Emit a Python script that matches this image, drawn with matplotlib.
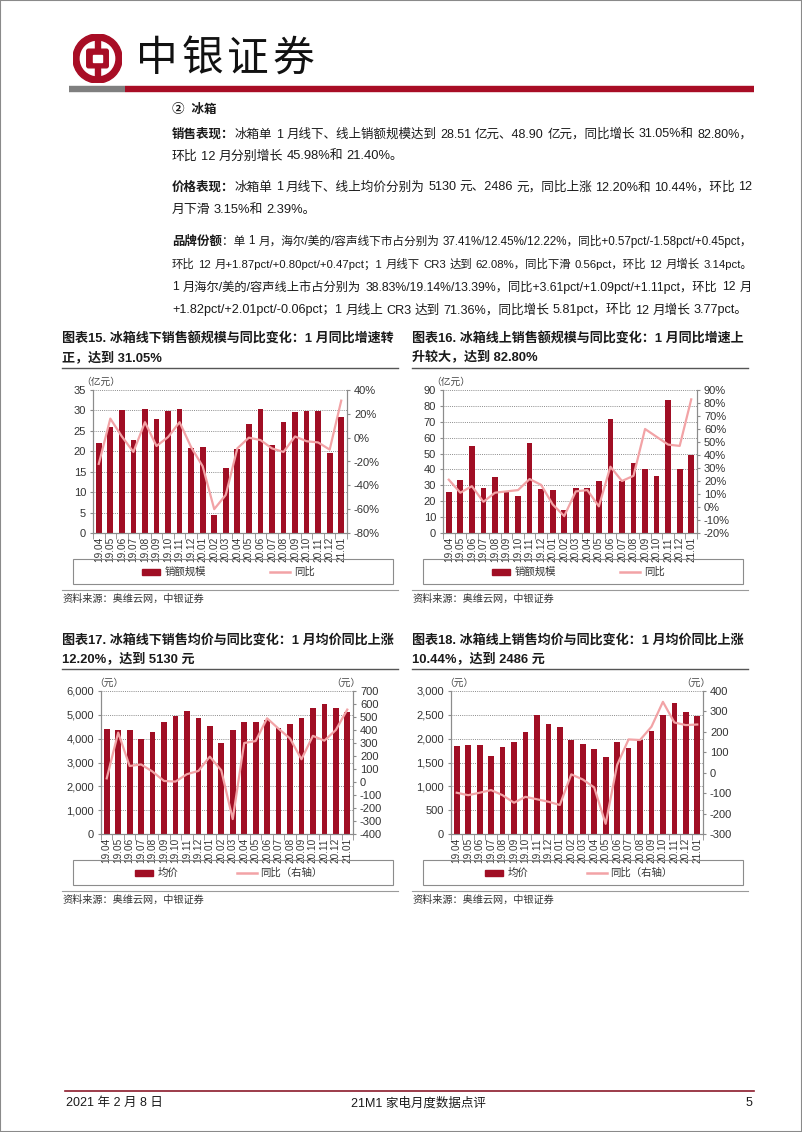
import numpy as np
import matplotlib
matplotlib.use('Agg')
from matplotlib import pyplot as plt
from matplotlib import patches, font_manager
from matplotlib.lines import Line2D
from matplotlib.ticker import FuncFormatter, MultipleLocator

months = ['19.04', '19.05', '19.06', '19.07', '19.08', '19.09', '19.10', '19.11', '19.12',
          '20.01', '20.02', '20.03', '20.04', '20.05', '20.06', '20.07', '20.08', '20.09',
          '20.10', '20.11', '20.12', '21.01']

# 线下销额（亿元）与同比（%）
offline_sales = [22.1, 26.0, 30.2, 22.7, 30.3, 27.8, 29.9, 30.3, 20.8, 21.0, 4.5, 16.0,
                 20.6, 26.7, 30.3, 21.5, 27.2, 29.6, 29.9, 29.9, 19.5, 28.51]
offline_sales_yoy = [-22, 16, 1, -12, 13, -7, 0.5, 13, -8, -24, -60, -48,
                     -9, 0, -2, -9, -12, 1, -3, -4, -10, 31.05]
# 线上销额（亿元）与同比（%）
online_sales = [25.5, 33.5, 55.0, 28.5, 35.5, 25.5, 23.5, 56.5, 27.5, 27.0, 14.5, 28.5,
                28.5, 33.0, 72.0, 32.5, 44.0, 40.0, 36.0, 83.5, 40.0, 48.9]
online_sales_yoy = [21, 11, 16, 4, 11, 12, 13, 21.5, 17, 2, -7, 12,
                    13, 0.5, 31, 20, 24, 60, 54, 48, 47, 82.8]
# 线下均价（元）与同比（元）
offline_price = [4420, 4350, 4350, 4000, 4300, 4700, 4950, 5150, 4870, 4550, 3800, 4380,
                 4720, 4680, 4800, 4430, 4630, 4880, 5300, 5470, 5280, 5130]
offline_price_yoy = [28, 380, 123, 135, 80, 8, 3, 60, 85, 195, 90, -285,
                     300, 315, 490, 410, 335, 175, 355, 318, 400, 557]
# 线上均价（元）与同比（元）
online_price = [1850, 1860, 1870, 1640, 1820, 1940, 2140, 2500, 2310, 2250, 1970, 1880,
                1790, 1620, 1920, 1800, 1970, 2170, 2500, 2740, 2550, 2486]
online_price_yoy = [-98, -110, -98, -85, -110, -147, -118, -130, -142, -158, -8, -33,
                    -72, -250, 37, 163, 160, 225, 347, 246, 233, 236]

W, H = 802, 1132
RED = '#A80D25'
BAR = '#A00E24'
LINE = '#F2A3A6'
SPINE = '#8C8C8C'
TXT = '#1A1A1A'

names = {f.name for f in font_manager.fontManager.ttflist}
narrow = 'Liberation Sans Narrow' if 'Liberation Sans Narrow' in names else 'Liberation Sans'
CJK = 'Noto Sans CJK SC'
plt.rcParams['font.family'] = [narrow, CJK, 'DejaVu Sans']
plt.rcParams['axes.unicode_minus'] = False


def fx(x):
    return x / W


def fy(y):
    return 1 - y / H


def px_box(l, t, r, b):
    return [l / W, 1 - b / H, (r - l) / W, (b - t) / H]


fig = plt.figure(figsize=(W / 100, H / 100), dpi=100)
renderer = fig.canvas.get_renderer()

# page frame
fig.add_artist(patches.Rectangle((0, 0), 1, 1, transform=fig.transFigure, fill=False,
                                 edgecolor='#8A8A8A', lw=1.5))

# logo
axl = fig.add_axes(px_box(73, 34, 122, 83))
axl.set_xlim(-1, 1)
axl.set_ylim(-1, 1)
axl.set_aspect('equal')
axl.axis('off')
axl.add_patch(patches.Circle((0, 0), 1, color=RED))
axl.add_patch(patches.Circle((0, 0), 0.70, color='white'))
axl.add_patch(patches.Rectangle((-0.11, -0.8), 0.22, 1.6, color=RED))
axl.add_patch(patches.FancyBboxPatch((-0.36, -0.30), 0.72, 0.60,
                                     boxstyle='round,pad=0.08', color=RED))
axl.add_patch(patches.Rectangle((-0.2, -0.14), 0.4, 0.28, color='white'))

for i, ch in enumerate('中银证券'):
    fig.text(fx(157 + i * 45.5), fy(59), ch, fontsize=30, family=CJK,
             ha='center', va='center', color='#111111')

fig.add_artist(Line2D([fx(69), fx(125)], [fy(89)] * 2, color='#7F7F7F', lw=4.6,
                      solid_capstyle='butt'))
fig.add_artist(Line2D([fx(125), fx(754)], [fy(89)] * 2, color=RED, lw=4.6,
                      solid_capstyle='butt'))


def put(x, y, s, bold=False, size=9.2, **kw):
    t = fig.text(fx(x), fy(y), s, fontsize=size, color=TXT, va='center',
                 fontweight='bold' if bold else 'normal', **kw)
    return t.get_window_extent(renderer).x1


def word(y, s, size, bold=False):
    t = fig.text(0, fy(y + 4.5), s, fontsize=size, color=TXT, va='baseline',
                 fontweight='bold' if bold else 'normal')
    return t, t.get_window_extent(renderer).width


def body_line(y, head, body, justify, size=9.3, x0=172, x1=752):
    toks = body.split(' ')
    head_w = 0
    head_t = None
    if head:
        head_t, head_w = word(y, head, 9.0, bold=True)
    min_gap = 3.0
    while True:
        placed = [word(y, s, size) for s in toks if s]
        total = head_w + sum(w for _, w in placed)
        n = len(placed) - 1
        if justify and n:
            gap = (x1 - x0 - total) / n
            ok = gap >= min_gap
        else:
            gap = 3.3
            ok = total + gap * n <= x1 - x0
        if ok or size < 7.0:
            break
        for t, _ in placed:
            t.remove()
        size -= 0.1
    x = x0
    if head_t is not None:
        head_t.set_x(fx(x))
        x += head_w
    for t, w in placed:
        t.set_x(fx(x))
        x += w + gap


put(172, 110, '②  冰箱', bold=True, size=9.0)

paras = [
    (133, '销售表现：', '冰箱单 1 月线下、线上销额规模达到 28.51 亿元、48.90 亿元，同比增长 31.05%和 82.80%，', True),
    (155, '', '环比 12 月分别增长 45.98%和 21.40%。', False),
    (186, '价格表现：', '冰箱单 1 月线下、线上均价分别为 5130 元、2486 元，同比上涨 12.20%和 10.44%，环比 12', True),
    (208, '', '月下滑 3.15%和 2.39%。', False),
    (240, '品牌份额', '：单 1 月，海尔/美的/容声线下市占分别为 37.41%/12.45%/12.22%，同比+0.57pct/-1.58pct/+0.45pct，', True),
    (263, '', '环比 12 月+1.87pct/+0.80pct/+0.47pct；1 月线下 CR3 达到 62.08%，同比下滑 0.56pct，环比 12 月增长 3.14pct。', True),
    (286, '', '1 月海尔/美的/容声线上市占分别为 38.83%/19.14%/13.39%，同比+3.61pct/+1.09pct/+1.11pct，环比 12 月', True),
    (309, '', '+1.82pct/+2.01pct/-0.06pct；1 月线上 CR3 达到 71.36%，同比增长 5.81pct，环比 12 月增长 3.77pct。', False),
]
for y, head, body, just in paras:
    body_line(y, head, body, just)


def draw_chart(left, top, title1, title2, values, yoy, lmax, lstep, rmin, rmax, rstep,
               lfmt, rfmt, unit_l, unit_r, names_leg, leg_off):
    # title
    put(left, top, title1, bold=True, size=9.4)
    put(left, top + 19, title2, bold=True, size=9.4)
    fig.add_artist(Line2D([fx(left), fx(left + 336)], [fy(top + 29)] * 2, color='#555555', lw=1))

    ax_l = left + 31 + (8 if unit_r else 0)
    ax_r = ax_l + 254 - (2 if unit_r else 0)
    ax_t = top + 51
    ax_b = ax_t + 143
    ax = fig.add_axes(px_box(ax_l, ax_t, ax_r, ax_b))
    x = np.arange(len(months))
    ax.bar(x, values, width=0.5, color=BAR, zorder=2)
    ax.set_xlim(-0.5, len(months) - 0.5)
    ax.set_ylim(0, lmax)
    ax.yaxis.set_major_locator(MultipleLocator(lstep))
    ax.yaxis.set_major_formatter(FuncFormatter(lfmt))
    ax.set_xticks(x)
    ax.set_xticklabels(months, rotation=90, fontsize=7.2)
    ax.set_xticks(np.arange(-0.5, len(months)), minor=True)
    ax.tick_params(axis='x', which='major', length=0, pad=3, colors='#333333')
    ax.tick_params(axis='x', which='minor', length=4, color=SPINE)
    ax.tick_params(axis='y', length=2, color=SPINE, labelsize=8, pad=3, labelcolor='#333333')
    ax.grid(axis='y', linestyle=(0, (1, 1.2)), color='#8C8C8C', lw=0.7)
    ax.set_axisbelow(True)
    ax.spines['top'].set_visible(False)
    for s in ['left', 'bottom', 'right']:
        ax.spines[s].set_color(SPINE)
        ax.spines[s].set_linewidth(0.8)

    ax2 = ax.twinx()
    ax2.plot(x, yoy, color=LINE, lw=1.6, zorder=3)
    ax2.set_ylim(rmin, rmax)
    ax2.yaxis.set_major_locator(MultipleLocator(rstep))
    ax2.yaxis.set_major_formatter(FuncFormatter(rfmt))
    ax2.tick_params(axis='y', length=2, color=SPINE, labelsize=8, pad=3, labelcolor='#333333')
    ax2.spines['top'].set_visible(False)
    for s in ['left', 'bottom', 'right']:
        ax2.spines[s].set_color(SPINE)
        ax2.spines[s].set_linewidth(0.8)

    fig.text(fx(ax_l + 8), fy(ax_t - 8), unit_l, fontsize=7, family=CJK, color='#444444',
             ha='center', va='center', style='italic')
    if unit_r:
        fig.text(fx(ax_r - 7), fy(ax_t - 8), unit_r, fontsize=7, family=CJK, color='#444444',
                 ha='center', va='center', style='italic')

    # legend box
    lb_t = ax_b + 26
    lx = left + 11
    fig.add_artist(patches.Rectangle((fx(lx), fy(lb_t + 25)), 320 / W, 25 / H,
                                     transform=fig.transFigure, fill=False,
                                     edgecolor='#8C8C8C', lw=0.8))
    ly = lb_t + 12.5
    b0, t0, l0, t1 = leg_off
    fig.add_artist(patches.Rectangle((fx(lx + b0), fy(ly + 3)), 18 / W, 6 / H,
                                     transform=fig.transFigure, color=BAR))
    fig.text(fx(lx + t0), fy(ly), names_leg[0], fontsize=7.5, family=CJK, color='#333333',
             va='center')
    fig.add_artist(Line2D([fx(lx + l0), fx(lx + l0 + 20)], [fy(ly)] * 2, color=LINE, lw=1.8))
    fig.text(fx(lx + t1), fy(ly), names_leg[1], fontsize=7.5, family=CJK, color='#333333',
             va='center')

    # source
    fig.add_artist(Line2D([fx(left), fx(left + 336)], [fy(lb_t + 31)] * 2, color='#9A9A9A', lw=0.8))
    fig.text(fx(left), fy(lb_t + 40), '资料来源：奥维云网，中银证券', fontsize=7.3, family=CJK,
             color='#333333', va='center', style='italic')


pct = lambda v, p: f'{v:.0f}%'
num = lambda v, p: f'{v:,.0f}'

draw_chart(62, 339, '图表15. 冰箱线下销售额规模与同比变化：1 月同比增速转', '正，达到 31.05%',
           offline_sales, offline_sales_yoy, 35, 5, -80, 40, 20, num, pct,
           '（亿元）', None, ['销额规模', '同比'], (69, 92, 197, 221))
draw_chart(412, 339, '图表16. 冰箱线上销售额规模与同比变化：1 月同比增速上', '升较大，达到 82.80%',
           online_sales, online_sales_yoy, 90, 10, -20, 90, 10, num, pct,
           '（亿元）', None, ['销额规模', '同比'], (69, 92, 197, 221))
draw_chart(62, 640, '图表17. 冰箱线下销售均价与同比变化：1 月均价同比上涨', '12.20%，达到 5130 元',
           offline_price, offline_price_yoy, 6000, 1000, -400, 700, 100, num, num,
           '（元）', '（元）', ['均价', '同比（右轴）'], (62, 85, 164, 187))
draw_chart(412, 640, '图表18. 冰箱线上销售均价与同比变化：1 月均价同比上涨', '10.44%，达到 2486 元',
           online_price, online_price_yoy, 3000, 500, -300, 400, 100, num, num,
           '（元）', '（元）', ['均价', '同比（右轴）'], (62, 85, 164, 187))

# footer
fig.add_artist(Line2D([fx(65), fx(754)], [fy(1091)] * 2, color='#8B1A2B', lw=1.2))
put(66, 1103, '2021 年 2 月 8 日', size=9)
fig.text(fx(418), fy(1103), '21M1 家电月度数据点评', fontsize=9, color=TXT, ha='center', va='center')
fig.text(fx(752), fy(1103), '5', fontsize=9, color=TXT, ha='right', va='center')

fig.savefig('out.png', dpi=100)
